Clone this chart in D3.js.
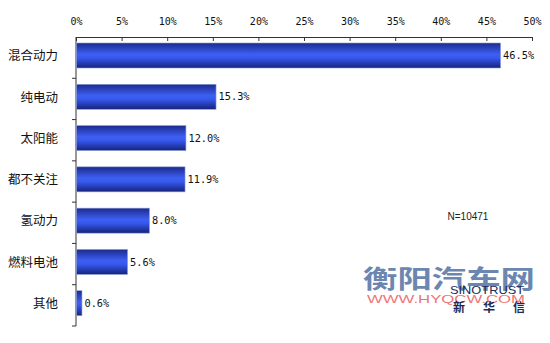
<!DOCTYPE html>
<html>
<head>
<meta charset="utf-8">
<script src="https://cdn.jsdelivr.net/npm/d3@7"></script>
<style>
  body { margin: 0; background: #fff; }
  svg { display: block; }
</style>
</head>
<body>
<svg id="chart" width="550" height="343"></svg>
<script>
const categories = ["混合动力", "纯电动", "太阳能", "都不关注", "氢动力", "燃料电池", "其他"];
const values = [46.5, 15.3, 12.0, 11.9, 8.0, 5.6, 0.6];
const tickValues = [0, 5, 10, 15, 20, 25, 30, 35, 40, 45, 50];

const width = 550, height = 343;
const margin = { top: 37, right: 18, bottom: 17, left: 76 };
const barH = 25;

const svg = d3.select("#chart");

const x = d3.scaleLinear().domain([0, 50]).range([margin.left, width - margin.right]);
// one band per category, no padding: bars sit inside each band
const y = d3.scaleBand().domain(categories).range([margin.top, height - margin.bottom]);
const barOff = 6;

// cylinder-like gradient
const grad = svg.append("defs").append("linearGradient")
  .attr("id", "barGrad").attr("x1", 0).attr("y1", 0).attr("x2", 0).attr("y2", 1);
grad.append("stop").attr("offset", "0%").attr("stop-color", "#1b2a8e");
grad.append("stop").attr("offset", "45%").attr("stop-color", "#3d5ff2");
grad.append("stop").attr("offset", "60%").attr("stop-color", "#3658ec");
grad.append("stop").attr("offset", "100%").attr("stop-color", "#16237c");

// top axis
const xAxis = svg.append("g")
  .attr("transform", `translate(0,${margin.top})`)
  .call(d3.axisTop(x).tickValues(tickValues).tickFormat(d => d + "%").tickSizeInner(-4).tickSizeOuter(-4).tickPadding(12));
xAxis.select(".domain").attr("stroke", "#333");
xAxis.selectAll(".tick line").attr("stroke", "#333");
xAxis.selectAll("text")
  .attr("font-family", "'DejaVu Sans Mono', monospace")
  .attr("font-size", 10).attr("fill", "#111");

// left axis with ticks between categories
const yAxisG = svg.append("g");
yAxisG.append("line")
  .attr("x1", margin.left).attr("x2", margin.left)
  .attr("y1", margin.top).attr("y2", height - margin.bottom)
  .attr("stroke", "#333");
yAxisG.selectAll(".bt").data(categories).enter().append("line")
  .attr("x1", margin.left - 4).attr("x2", margin.left)
  .attr("y1", d => y(d) + y.step())
  .attr("y2", d => y(d) + y.step())
  .attr("stroke", "#333");

// category labels
svg.selectAll(".cat").data(categories).enter().append("text")
  .attr("x", margin.left - 18)
  .attr("y", d => y(d) + barOff + barH / 2)
  .attr("dy", "0.38em")
  .attr("text-anchor", "end")
  .attr("font-family", "'Noto Sans CJK SC', sans-serif")
  .attr("font-size", 12.5).attr("fill", "#111")
  .text(d => d);

// bars
svg.selectAll(".bar").data(values).enter().append("rect")
  .attr("x", x(0) + 0.5)
  .attr("y", (d, i) => y(categories[i]) + barOff)
  .attr("width", d => x(d) - x(0))
  .attr("height", barH)
  .attr("fill", "url(#barGrad)")
  .attr("stroke", "#8fa0d8").attr("stroke-width", 0.6);

// value labels
svg.selectAll(".val").data(values).enter().append("text")
  .attr("x", d => x(d) + 3)
  .attr("y", (d, i) => y(categories[i]) + barOff + barH / 2)
  .attr("dy", "0.35em")
  .attr("font-family", "'DejaVu Sans Mono', monospace")
  .attr("font-size", 10.3).attr("fill", "#111")
  .text(d => d.toFixed(1) + "%");

// sample size
svg.append("text")
  .attr("x", 468).attr("y", 219.5)
  .attr("text-anchor", "middle")
  .attr("font-family", "Arial, 'Liberation Sans', sans-serif")
  .attr("font-size", 10).attr("fill", "#222")
  .text("N=10471");

// watermark / logo
svg.append("text")
  .attr("x", 363).attr("y", 288)
  .attr("textLength", 172).attr("lengthAdjust", "spacingAndGlyphs")
  .attr("font-family", "'Noto Sans CJK SC', sans-serif")
  .attr("font-weight", "bold")
  .attr("font-size", 25).attr("fill", "#5b7aa8").attr("opacity", 0.9)
  .text("衡阳汽车网");
svg.append("text")
  .attr("x", 450).attr("y", 294)
  .attr("textLength", 74).attr("lengthAdjust", "spacingAndGlyphs")
  .attr("font-family", "Arial, 'Liberation Sans', sans-serif")
  .attr("font-size", 11).attr("fill", "#1b2a55")
  .text("SINOTRUST");
svg.append("text")
  .attr("x", 367).attr("y", 303)
  .attr("textLength", 158).attr("lengthAdjust", "spacingAndGlyphs")
  .attr("font-family", "Arial, 'Liberation Sans', sans-serif")
  .attr("font-size", 11).attr("fill", "#e8474a").attr("opacity", 0.75)
  .text("WWW.HYQCW.COM");
svg.append("text")
  .attr("x", 453).attr("y", 312)
  .attr("textLength", 72).attr("lengthAdjust", "spacing")
  .attr("font-family", "'Noto Sans CJK SC', sans-serif")
  .attr("font-weight", "bold")
  .attr("font-size", 12).attr("fill", "#1b2a55")
  .text("新华信");
</script>
</body>
</html>
